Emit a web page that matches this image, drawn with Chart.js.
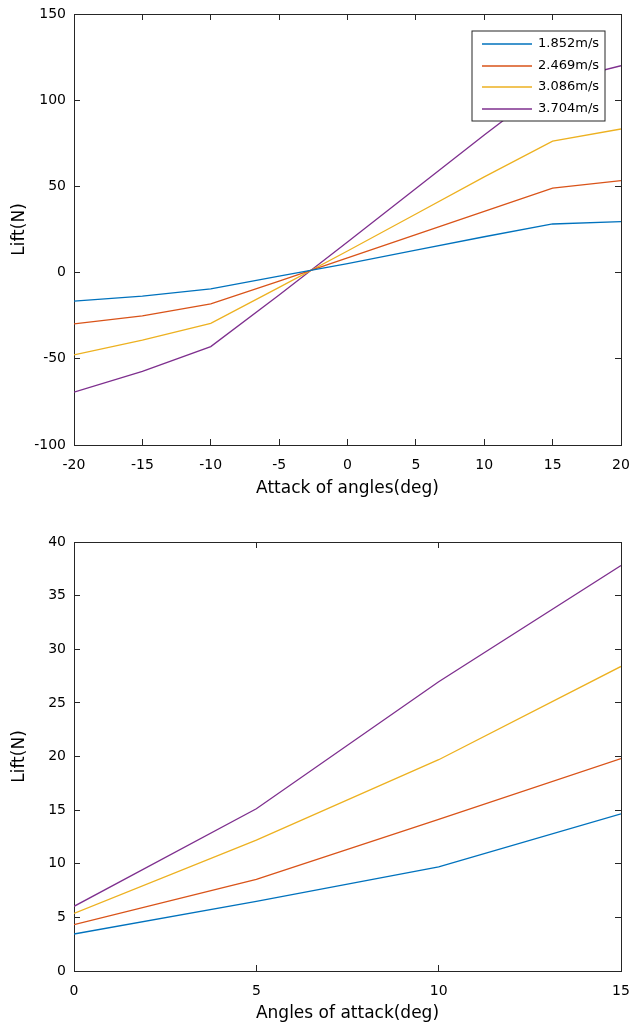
<!DOCTYPE html>
<html>
<head>
<meta charset="utf-8">
<script src="https://cdn.jsdelivr.net/npm/chart.js@4"></script>
<style>
  body { margin: 0; background: #fff; }
  .box { position: absolute; left: 0; width: 630px; }
</style>
</head>
<body>
<div class="box" style="top:0;height:510px"><canvas id="liftAll"></canvas></div>
<div class="box" style="top:520px;height:509px"><canvas id="liftPos"></canvas></div>
<script>
const speeds = ['1.852m/s', '2.469m/s', '3.086m/s', '3.704m/s'];
const colors = ['#0072BD', '#D95319', '#EDB120', '#7E2F8E'];

// top plot, -20..20 deg
const anglesAll = [-20, -15, -10, -5, 0, 5, 10, 15, 20];
const all1852 = [-16.5, -13.6, -9.5, -2.1, 5.2, 13.0, 20.8, 28.2, 29.6];
const all2469 = [-29.8, -25.1, -18.2, -5.0, 8.5, 22.0, 35.5, 49.0, 53.3];
const all3086 = [-47.7, -39.2, -29.4, -8.6, 12.5, 34.0, 55.5, 76.2, 83.3];
const all3704 = [-69.3, -57.3, -42.9, -13.0, 17.8, 48.8, 79.8, 110.0, 120.0];

// bottom plot, 0..15 deg
const anglesPos = [0, 5, 10, 15];
const pos1852 = [3.45, 6.5, 9.7, 14.66];
const pos2469 = [4.33, 8.54, 14.13, 19.8];
const pos3086 = [5.37, 12.2, 19.7, 28.4];
const pos3704 = [6.03, 15.13, 26.97, 37.8];

const FONT = 'DejaVu Sans';
const INK = '#262626';

// matlab style legend box in the upper right corner
const boxLegend = {
  id: 'boxLegend',
  afterDatasetsDraw(chart, args, opts) {
    if (!opts.show) return;
    const ctx = chart.ctx;
    const a = chart.chartArea;
    const w = 133, h = 90;
    const x = Math.round(a.right - 16 - w), y = Math.round(a.top + 17);
    ctx.save();
    ctx.fillStyle = '#fff';
    ctx.fillRect(x, y, w, h);
    ctx.strokeStyle = INK;
    ctx.lineWidth = 1;
    ctx.strokeRect(x, y, w, h);
    ctx.font = '13px "' + FONT + '"';
    ctx.textBaseline = 'middle';
    ctx.fillStyle = '#000';
    ctx.lineWidth = 1.5;
    chart.data.datasets.forEach((ds, i) => {
      const ly = Math.round(y + 13 + i * 21.6);
      ctx.strokeStyle = ds.borderColor;
      ctx.beginPath();
      ctx.moveTo(x + 10, ly);
      ctx.lineTo(x + 60, ly);
      ctx.stroke();
      ctx.fillText(ds.label, x + 66, ly);
    });
    ctx.restore();
  }
};

function axis(pos, min, max, step, showLabels, fit) {
  return {
    type: 'linear',
    position: pos,
    min: min,
    max: max,
    grid: { drawOnChartArea: false, tickLength: -6, tickColor: INK, tickWidth: 1 },
    border: { color: INK, width: 1 },
    ticks: {
      display: showLabels,
      stepSize: step,
      autoSkip: false,
      maxRotation: 0,
      padding: pos === 'bottom' ? 18 : 14,
      color: '#000',
      font: { family: FONT, size: 14 }
    },
    afterFit: s => {
      fit(s);
      // no extra room for the end labels, the plot box is fixed
      s.paddingLeft = s.paddingRight = s.paddingTop = s.paddingBottom = 0;
    }
  };
}

function makeChart(id, xs, series, o) {
  const datasets = series.map((ys, i) => ({
    label: speeds[i],
    data: xs.map((x, j) => ({ x: x, y: ys[j] })),
    borderColor: colors[i],
    borderWidth: 1.3,
    pointRadius: 0,
    tension: 0,
    fill: false
  }));

  const x = axis('bottom', o.xMin, o.xMax, o.xStep, true, s => { s.height = o.xHeight; });
  x.title = { display: true, text: o.xTitle, color: '#000', font: { family: FONT, size: 17 }, padding: { top: 0, bottom: o.titlePad } };
  const y = axis('left', o.yMin, o.yMax, o.yStep, true, s => { s.width = 74; });
  y.title = { display: true, text: 'Lift(N)', color: '#000', font: { family: FONT, size: 17 }, padding: { top: 9, bottom: 0 } };

  new Chart(document.getElementById(id), {
    type: 'line',
    data: { datasets: datasets },
    plugins: [boxLegend],
    options: {
      responsive: true,
      maintainAspectRatio: false,
      animation: false,
      devicePixelRatio: 1,
      layout: { padding: { top: o.top, right: 9, left: 0, bottom: 0 } },
      plugins: {
        legend: { display: false },
        tooltip: { enabled: false },
        boxLegend: { show: o.legend }
      },
      scales: {
        x: x,
        y: y,
        x2: axis('top', o.xMin, o.xMax, o.xStep, false, s => { s.height = 0; }),
        y2: axis('right', o.yMin, o.yMax, o.yStep, false, s => { s.width = 0; })
      }
    }
  });
}

makeChart('liftAll', anglesAll, [all1852, all2469, all3086, all3704], {
  xMin: -20, xMax: 20, xStep: 5, yMin: -100, yMax: 150, yStep: 50,
  xTitle: 'Attack of angles(deg)', xHeight: 65, titlePad: 11, top: 14, legend: true
});

makeChart('liftPos', anglesPos, [pos1852, pos2469, pos3086, pos3704], {
  xMin: 0, xMax: 15, xStep: 5, yMin: 0, yMax: 40, yStep: 5,
  xTitle: 'Angles of attack(deg)', xHeight: 58, titlePad: 5, top: 22, legend: false
});
</script>
</body>
</html>
